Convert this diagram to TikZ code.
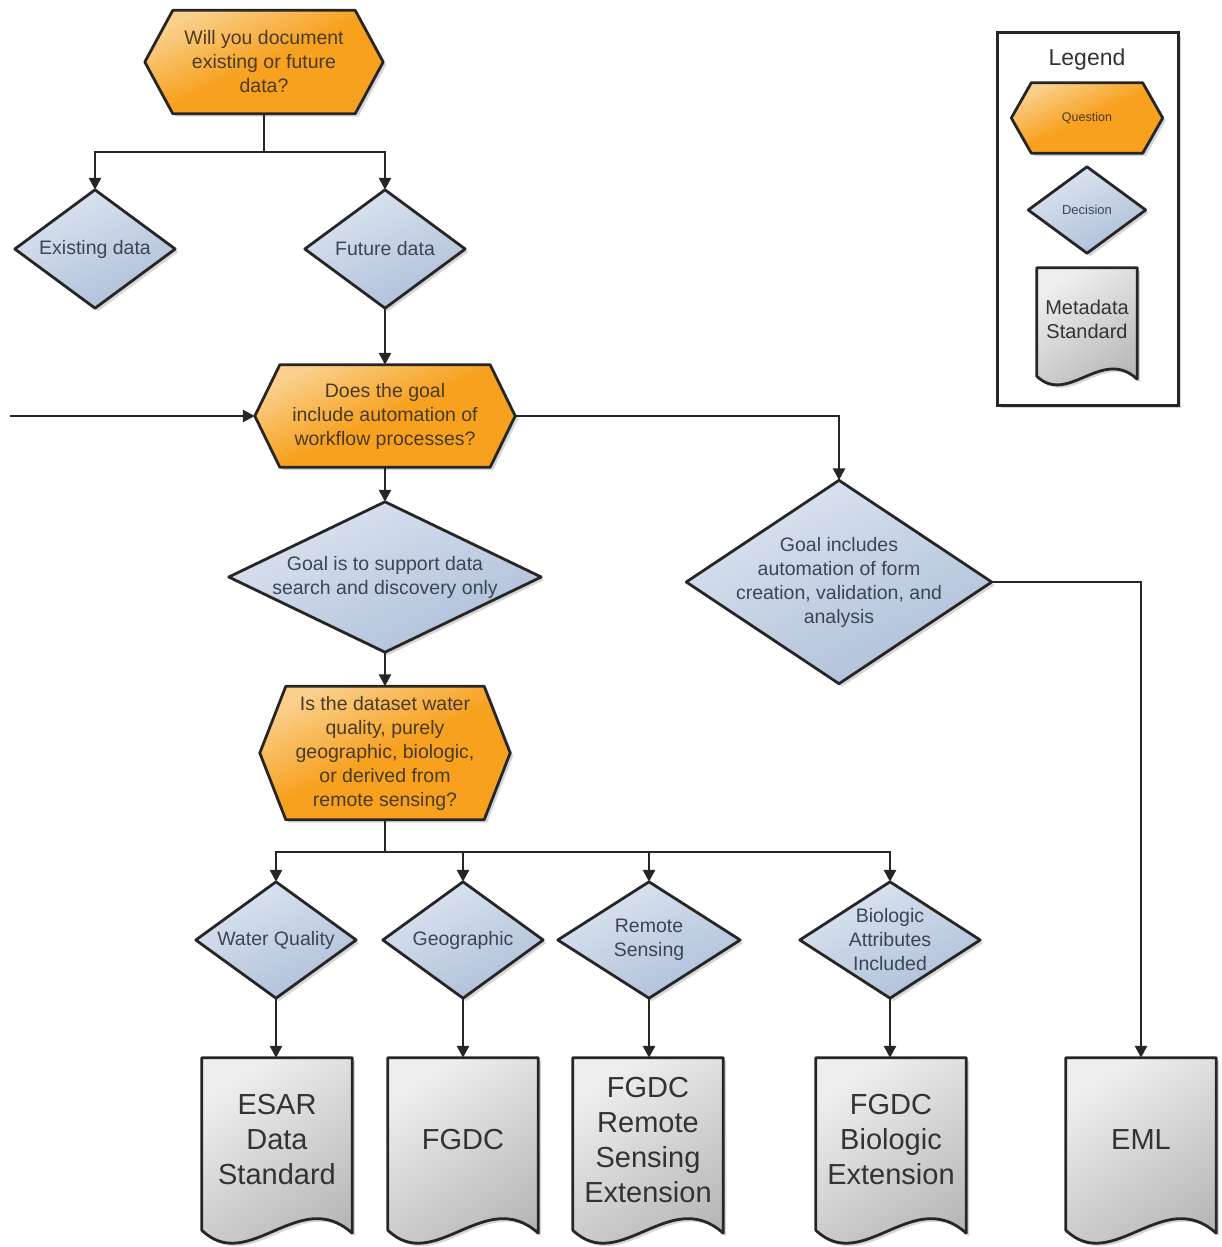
\documentclass[tikz,border=0pt]{standalone}
\usepackage{fontspec}
\setmainfont{Liberation Sans}
\usetikzlibrary{arrows.meta,calc,shadows}
\pgfdeclarelayer{background}
\pgfsetlayers{background,main}
\definecolor{hexA}{HTML}{FAD08C}
\definecolor{hexB}{HTML}{F7A11F}
\definecolor{diaA}{HTML}{DCE4F0}
\definecolor{diaB}{HTML}{AEBFD9}
\definecolor{docA}{HTML}{EEEEEE}
\definecolor{docB}{HTML}{B4B4B4}
\definecolor{edgec}{HTML}{262626}
\definecolor{hextxt}{HTML}{4A3B26}
\definecolor{diatxt}{HTML}{3D4553}
\definecolor{doctxt}{HTML}{333333}

\newcommand{\hexshape}[2]{%
  \path[hexfill] (#1.west) -- ($(#1.north west)+(#2,0)$) -- ($(#1.north east)+(-#2,0)$)
    -- (#1.east) -- ($(#1.south east)+(-#2,0)$) -- ($(#1.south west)+(#2,0)$) -- cycle;}
\newcommand{\diashape}[1]{%
  \path[diafill] (#1.north) -- (#1.east) -- (#1.south) -- (#1.west) -- cycle;}
% #1 node, #2 wave amplitude, #3 extra height below the node box
\newcommand{\docshape}[3]{%
  \path[docfill] ($(#1.south west)+(0,#3)$) -- (#1.north west) -- (#1.north east) -- ($(#1.south east)+(0,#3+3)$)
    .. controls ($(#1.south west)!0.65!(#1.south east)+(0,#3-#2)$) and ($(#1.south west)!0.31!(#1.south east)+(0,#3+#2)$) .. ($(#1.south west)+(0,#3)$) -- cycle;}

\begin{document}
\begin{tikzpicture}[x=1pt,y=-1pt,
  slot/.style 2 args={draw=none, inner sep=0pt, minimum width=#1, minimum height=#2, align=center},
  qtext/.style={font=\fontsize{19.5}{24}\selectfont, text=hextxt},
  dtext/.style={font=\fontsize{19.5}{24}\selectfont, text=diatxt},
  doctext/.style={font=\fontsize{29}{35}\selectfont, text=doctxt},
  shadowed/.style={drop shadow={shadow xshift=3pt, shadow yshift=-3pt, opacity=0.16, fill=black}},
  hexfill/.style={draw=edgec, line width=2.8pt, line join=round, shadowed,
     top color=hexA, bottom color=hexB, middle color=hexB, shading angle=25},
  diafill/.style={draw=edgec, line width=2.8pt, line join=round, shadowed,
     top color=diaA, bottom color=diaB, shading angle=25},
  docfill/.style={draw=edgec, line width=2.8pt, line join=round, shadowed,
     top color=docA, bottom color=docB, shading angle=35},
  conn/.style={draw=edgec, line width=2.7pt},
  arr/.style={conn, -{Triangle[length=12pt,width=12pt]}},
]
\useasboundingbox (0,0) rectangle (1222,1247);

% ---------- main flow nodes ----------
\node[slot={238}{103}, qtext] (q1) at (264,62) {Will you document\\existing or future\\data?};
\node[slot={160}{118}, dtext] (exist) at (95,249) {Existing data};
\node[slot={160}{118}, dtext] (future) at (385,249) {Future data};
\node[slot={260}{102}, qtext] (q2) at (385,416) {Does the goal\\include automation of\\workflow processes?};
\node[slot={312}{150}, dtext] (search) at (385,577) {Goal is to support data\\search and discovery only};
\node[slot={305}{203}, dtext] (auto) at (839,582) {Goal includes\\automation of form\\creation, validation, and\\analysis};
\node[slot={250}{133}, qtext] (q3) at (385,753) {Is the dataset water\\quality, purely\\geographic, biologic,\\or derived from\\remote sensing?};
\node[slot={160}{116}, dtext] (wq) at (276,940) {Water Quality};
\node[slot={160}{116}, dtext] (geo) at (463,940) {Geographic};
\node[slot={182}{116}, dtext] (rs) at (649,940) {Remote\\Sensing};
\node[slot={180}{116}, dtext] (bio) at (890,940) {Biologic\\Attributes\\Included};

\node[slot={150}{164}, doctext] (esar) at (277,1140) {ESAR\\Data\\Standard};
\node[slot={150}{164}, doctext] (fgdc) at (463,1140) {FGDC};
\node[slot={150}{164}, doctext] (rsext) at (648,1140) {FGDC\\Remote\\Sensing\\Extension};
\node[slot={150}{164}, doctext] (bioext) at (891,1140) {FGDC\\Biologic\\Extension};
\node[slot={150}{164}, doctext] (eml) at (1141,1140) {EML};

% ---------- legend ----------
\node[slot={180}{372}] (legend) at (1088,219) {};
\node[font=\fontsize{23}{26}\selectfont, text=doctxt] (legtitle) at (1087,60) {Legend};
\node[slot={151}{70}, font=\fontsize{12.5}{14}\selectfont, text=hextxt] (lq) at (1087,118) {Question};
\node[slot={117}{86}, font=\fontsize{13}{14}\selectfont, text=diatxt] (ld) at (1087,210) {Decision};
\node[slot={100}{102}, font=\fontsize{20}{24}\selectfont, text=doctxt] (ldoc) at (1087,319) {Metadata\\Standard};

% ---------- shapes ----------
\begin{pgfonlayer}{background}
  \path[draw=edgec, line width=3pt, fill=white, shadowed] (legend.north west) rectangle (legend.south east);
  \hexshape{q1}{28}
  \hexshape{q2}{25}
  \hexshape{q3}{26}
  \hexshape{lq}{20}
  \diashape{exist}
  \diashape{future}
  \diashape{search}
  \diashape{auto}
  \diashape{wq}
  \diashape{geo}
  \diashape{rs}
  \diashape{bio}
  \diashape{ld}
  \docshape{esar}{45}{8}
  \docshape{fgdc}{45}{8}
  \docshape{rsext}{45}{8}
  \docshape{bioext}{45}{8}
  \docshape{eml}{45}{8}
  \docshape{ldoc}{30}{6}
\end{pgfonlayer}

% ---------- connectors ----------
\coordinate (bus1) at (264,152);
\coordinate (bus2) at (385,852);
\coordinate (inleft) at (10,416);
\draw[conn] (q1.south) -- (bus1);
\draw[arr] (bus1) -| (exist.north);
\draw[arr] (bus1) -| (future.north);
\draw[arr] (future.south) -- (q2.north);
\draw[arr] (inleft) -- (q2.west);
\draw[arr] (q2.east) -| (auto.north);
\draw[arr] (q2.south) -- (search.north);
\draw[arr] (search.south) -- (q3.north);
\draw[arr] (auto.east) -| (eml.north);
\draw[conn] (q3.south) -- (bus2);
\draw[arr] (bus2) -| (wq.north);
\draw[arr] (bus2) -| (geo.north);
\draw[arr] (bus2) -| (rs.north);
\draw[arr] (bus2) -| (bio.north);
\draw[arr] (wq.south) -- (wq.south |- esar.north);
\draw[arr] (geo.south) -- (geo.south |- fgdc.north);
\draw[arr] (rs.south) -- (rs.south |- rsext.north);
\draw[arr] (bio.south) -- (bio.south |- bioext.north);
\end{tikzpicture}
\end{document}
